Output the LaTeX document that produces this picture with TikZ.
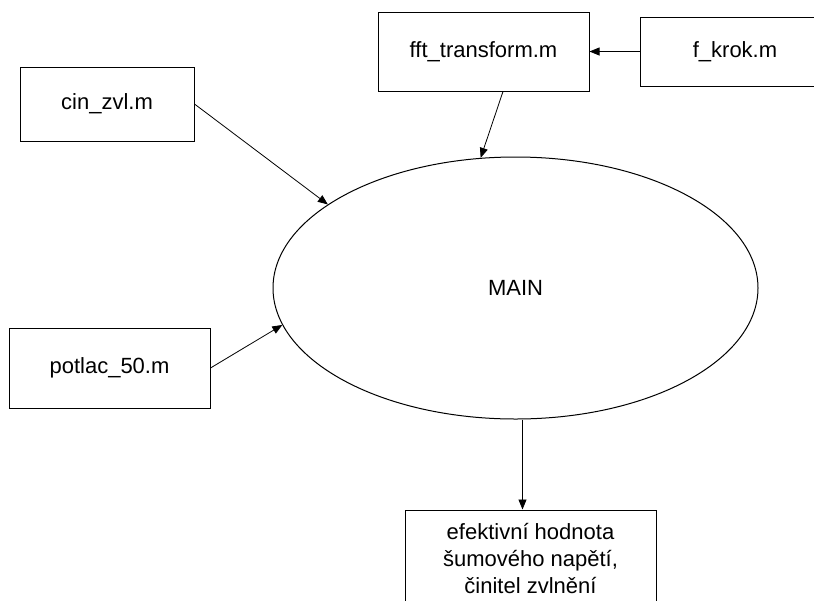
\documentclass[tikz,border=0pt]{standalone}
\usepackage{fontspec}
\setmainfont{Liberation Sans}
\usetikzlibrary{arrows.meta,positioning,shapes.geometric,calc}

\begin{document}
\begin{tikzpicture}[x=1pt,y=-1pt,
   box/.style={draw,line width=1pt,inner sep=0pt,align=center,font=\fontsize{22}{26.7}\selectfont},
   arr/.style={-{Triangle[length=10pt,width=8pt]},line width=0.8pt}]
  \useasboundingbox (0,0) rectangle (814,600);
  \clip (0,0) rectangle (814,600);
  \node[box,minimum width=211pt,minimum height=79pt] (fft) at (483.5,51.5) {fft\_transform.m};
  \node[box,minimum width=190pt,minimum height=69pt,right=50pt of fft] (krok) {f\_krok.m};
  \node[box,minimum width=174pt,minimum height=74pt] (cin) at (107,104) {cin\_zvl.m};
  \node[box,ellipse,minimum width=485pt,minimum height=262pt] (main) at (515.5,288) {MAIN};
  \node[box,minimum width=201pt,minimum height=80pt] (potlac) at (109.5,368) {potlac\_50.m};
  \node[box,minimum width=251pt,minimum height=97pt] (res) at (530.5,558.5)
     {efektivní hodnota\\šumového napětí,\\činitel zvlnění};
  \draw[arr] (krok) -- (fft);
  \draw[arr] ($(fft.south)+(19.5,0)$) -- (main.105);
  \draw[arr] (cin.east) -- (main.156);
  \draw[arr] (potlac.east) -- (main.189);
  \draw[arr] (main.south) ++(7,0) coordinate (mo) -- (mo |- res.north);
\end{tikzpicture}
\end{document}
